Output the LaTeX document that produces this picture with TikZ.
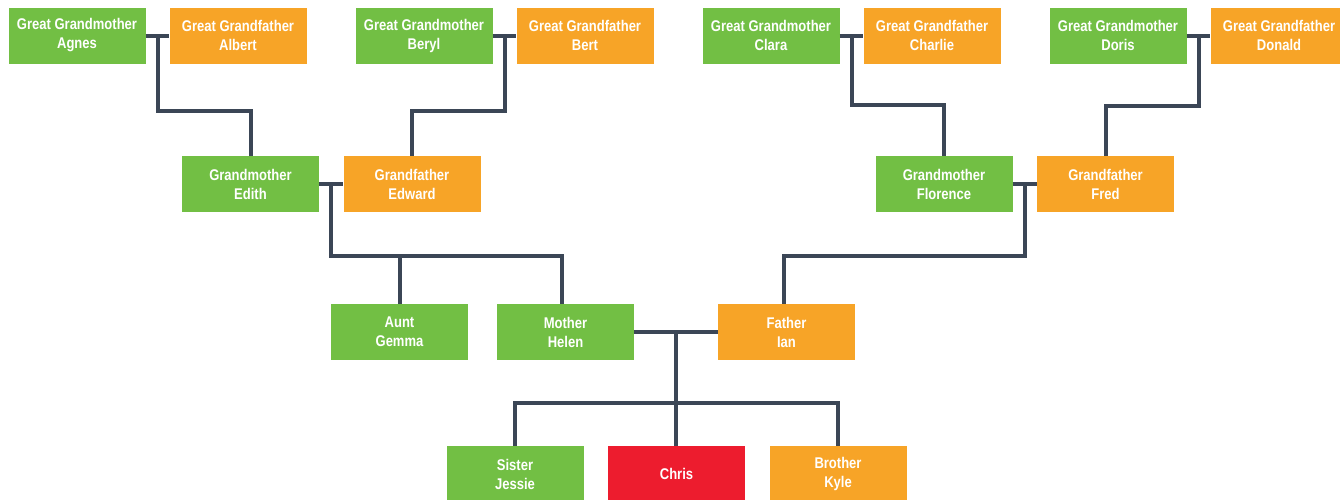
\documentclass[tikz,border=0pt]{standalone}
\usepackage{fontspec}
\setmainfont{Liberation Sans}[FakeStretch=0.84]
\usetikzlibrary{calc}
\definecolor{gmgreen}{HTML}{72BF44}
\definecolor{gforange}{HTML}{F7A427}
\definecolor{mered}{HTML}{ED1C2E}
\definecolor{linkcol}{HTML}{3B4656}
\begin{document}
\begin{tikzpicture}[x=1pt,y=-1pt,
  person/.style={rectangle,minimum width=137pt,minimum height=56pt,inner sep=0pt,
    align=center,text=white,font=\fontsize{15.5}{19}\selectfont\bfseries},
  female/.style={person,fill=gmgreen},
  male/.style={person,fill=gforange},
  self/.style={person,fill=mered},
  link/.style={draw=linkcol,line width=4pt,line join=miter}]
\useasboundingbox (0,0) rectangle (1340,499);
% row 1
\node[female] (agnes) at (77,35.5) {Great Grandmother\\Agnes};
\node[male] (albert) at (238,35.5) {Great Grandfather\\Albert};
\node[female] (beryl) at (424,35.5) {Great Grandmother\\Beryl};
\node[male] (bert) at (585,35.5) {Great Grandfather\\Bert};
\node[female] (clara) at (771,35.5) {Great Grandmother\\Clara};
\node[male] (charlie) at (932,35.5) {Great Grandfather\\Charlie};
\node[female] (doris) at (1118,35.5) {Great Grandmother\\Doris};
\node[male] (donald) at (1279,35.5) {Great Grandfather\\Donald};
% row 2
\node[female] (edith) at (250.5,184) {Grandmother\\Edith};
\node[male] (edward) at (412,184) {Grandfather\\Edward};
\node[female] (florence) at (944,184) {Grandmother\\Florence};
\node[male] (fred) at (1105.5,184) {Grandfather\\Fred};
% row 3
\node[female] (gemma) at (399.5,332) {Aunt\\Gemma};
\node[female] (helen) at (565.5,332) {Mother\\Helen};
\node[male] (ian) at (786.5,332) {Father\\Ian};
% row 4
\node[female] (jessie) at (515,474) {Sister\\Jessie};
\node[self] (chris) at (676.5,474) {Chris};
\node[male] (kyle) at (838,474) {Brother\\Kyle};
% couple coordinates
\coordinate (ab) at ($(agnes.east)!0.5!(albert.west)$);
\coordinate (bb) at ($(beryl.east)!0.5!(bert.west)$);
\coordinate (cc) at ($(clara.east)!0.5!(charlie.west)$);
\coordinate (dd) at ($(doris.east)!0.5!(donald.west)$);
\coordinate (ee) at ($(edith.east)!0.5!(edward.west)$);
\coordinate (ff) at ($(florence.east)!0.5!(fred.west)$);
\coordinate (hi) at ($(helen.east)!0.5!(ian.west)$);
% couples
\draw[link] (agnes.east) -- (albert.west);
\draw[link] (beryl.east) -- (bert.west);
\draw[link] (clara.east) -- (charlie.west);
\draw[link] (doris.east) -- (donald.west);
\draw[link] (edith.east) -- (edward.west);
\draw[link] (florence.east) -- (fred.west);
\draw[link] (helen.east) -- (ian.west);
% descent lines
\draw[link] (ab) -- ++(0,75) -| (edith.north);
\draw[link] (bb) -- ++(0,75) -| (edward.north);
\draw[link] (cc) -- ++(0,69.5) -| (florence.north);
\draw[link] (dd) -- ++(0,70.5) -| (fred.north);
\draw[link] (ee) -- ++(0,72) -| ($(helen.north)+(-4,0)$);
\draw[link] (gemma.north) -- ++(0,-46);
\draw[link] (ff) -- ++(0,72) -| ($(ian.north)+(-2.5,0)$);
\draw[link] (hi) -- (hi |- chris.north);
\draw[link] (jessie.north) -- ++(0,-43) -| (kyle.north);
\end{tikzpicture}
\end{document}
